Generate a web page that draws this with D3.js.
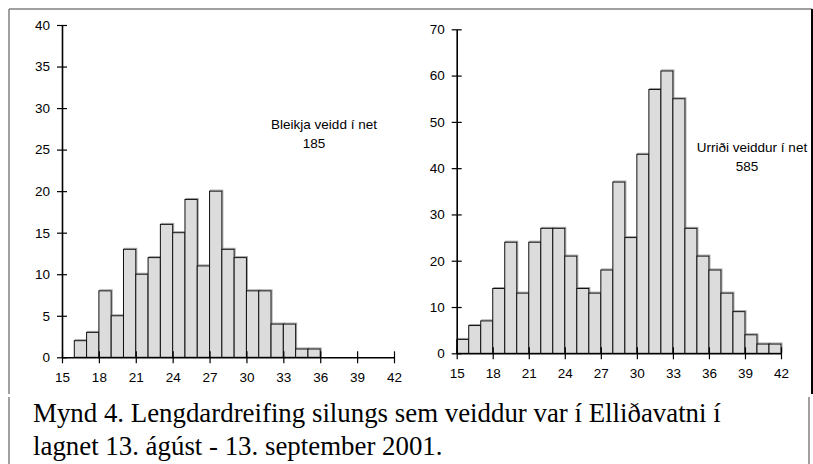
<!DOCTYPE html>
<html>
<head>
<meta charset="utf-8">
<script src="https://cdn.jsdelivr.net/npm/d3@7"></script>
<style>
  body { margin: 0; background: #fff; }
  svg { display: block; }
</style>
</head>
<body>
<div id="chart"></div>
<script>
// Bleikja (arctic charr) - bins start at 16 cm
var bleikjaStart = 16;
var bleikjaCounts = [2, 3, 8, 5, 13, 10, 12, 16, 15, 19, 11, 20, 13, 12, 8, 8, 4, 4, 1, 1];
var bleikjaYTicks = [0, 5, 10, 15, 20, 25, 30, 35, 40];

// Urriði (brown trout) - bins start at 15 cm
var urridiStart = 15;
var urridiCounts = [3, 6, 7, 14, 24, 13, 24, 27, 27, 21, 14, 13, 18, 37, 25, 43, 57, 61, 55, 27, 21, 18, 13, 9, 4, 2, 2];
var urridiYTicks = [0, 10, 20, 30, 40, 50, 60, 70];

var xTicks = [15, 18, 21, 24, 27, 30, 33, 36, 39, 42];

var labels = [["Bleikja veidd í net", "185"], ["Urriði veiddur í net", "585"]];
var caption = ["Mynd 4. Lengdardreifing silungs sem veiddur var  í Elliðavatni í",
               "lagnet 13. ágúst - 13. september 2001."];

var width = 813,
    height = 464;

var svg = d3.select("#chart")
            .append("svg")
              .attr("width", width)
              .attr("height", height);

// Frame round the charts and the caption box
svg.append("line").attr("x1", 9).attr("x2", 812).attr("y1", 9).attr("y2", 9)
   .attr("stroke", "#808080").attr("stroke-width", 1.5);
svg.append("line").attr("x1", 9).attr("x2", 9).attr("y1", 9).attr("y2", 394)
   .attr("stroke", "#808080").attr("stroke-width", 1.5);
svg.append("line").attr("x1", 812).attr("x2", 812).attr("y1", 9).attr("y2", 394)
   .attr("stroke", "#000").attr("stroke-width", 2);
svg.append("line").attr("x1", 9).attr("x2", 9).attr("y1", 397).attr("y2", 464)
   .attr("stroke", "#808080").attr("stroke-width", 1.5);
svg.append("line").attr("x1", 809).attr("x2", 809).attr("y1", 397).attr("y2", 464)
   .attr("stroke", "#808080").attr("stroke-width", 1.5);

function histogram(opts) {
  var x = d3.scaleLinear().domain([15, 42]).range([opts.left, opts.right]);
  var y = d3.scaleLinear().domain([0, opts.yMax]).range([opts.bottom, opts.top]);

  var bins = opts.counts.map(function(c, i) {
    return {x0: opts.start + i, x1: opts.start + i + 1, n: c};
  });

  var g = svg.append("g");

  // light shadow on bars
  g.selectAll(".shadow")
    .data(bins)
    .enter()
    .append("rect")
      .attr("x", function(d) { return x(d.x0) + 1; })
      .attr("y", function(d) { return y(d.n) - 1; })
      .attr("width", function(d) { return x(d.x1) - x(d.x0); })
      .attr("height", function(d) { return y(0) - y(d.n); })
      .attr("fill", "none")
      .attr("stroke", "#a0a0a0")
      .attr("stroke-width", 1);

  g.selectAll(".bar")
    .data(bins)
    .enter()
    .append("rect")
      .attr("x", function(d) { return x(d.x0); })
      .attr("y", function(d) { return y(d.n); })
      .attr("width", function(d) { return x(d.x1) - x(d.x0); })
      .attr("height", function(d) { return y(0) - y(d.n); })
      .attr("fill", "#dcdcdc")
      .attr("stroke", "#111")
      .attr("stroke-width", 1);

  // y axis, ticks crossing the line
  var yAxis = g.append("g")
    .attr("transform", "translate(" + opts.left + ",0)")
    .call(d3.axisLeft(y).tickValues(opts.yTicks).tickSize(5).tickSizeOuter(0).tickPadding(7));
  yAxis.selectAll(".tick line").attr("x1", 5).attr("stroke-width", 1.2);

  // x axis
  var xAxis = g.append("g")
    .attr("transform", "translate(0," + opts.bottom + ")")
    .call(d3.axisBottom(x).tickValues(xTicks).tickSize(6).tickSizeOuter(0).tickPadding(9));
  xAxis.selectAll(".tick line").attr("y1", -6).attr("stroke-width", 1.2);

  [yAxis, xAxis].forEach(function(a) {
    a.select(".domain").attr("stroke", "#000").attr("stroke-width", 1.6);
    a.selectAll("text")
      .attr("font-family", "Liberation Sans, Arial, sans-serif")
      .attr("font-size", "13.5px")
      .attr("fill", "#000");
  });

  g.append("text")
    .attr("x", opts.labelX).attr("y", opts.labelY)
    .attr("text-anchor", "middle")
    .attr("font-family", "Liberation Sans, Arial, sans-serif")
    .attr("font-size", "13.5px")
    .text(opts.label[0]);
  g.append("text")
    .attr("x", opts.numX).attr("y", opts.labelY + 19)
    .attr("text-anchor", "middle")
    .attr("font-family", "Liberation Sans, Arial, sans-serif")
    .attr("font-size", "13.5px")
    .text(opts.label[1]);
}

histogram({left: 62, right: 394, top: 25, bottom: 357.3, yMax: 40,
           start: bleikjaStart, counts: bleikjaCounts, yTicks: bleikjaYTicks,
           label: labels[0], labelX: 324, numX: 314, labelY: 129});

histogram({left: 456.7, right: 781, top: 29.3, bottom: 353.3, yMax: 70,
           start: urridiStart, counts: urridiCounts, yTicks: urridiYTicks,
           label: labels[1], labelX: 752, numX: 747, labelY: 152});

// Caption, narrow serif text
var cap = svg.append("g");
var line1 = cap.append("text")
  .attr("x", 0).attr("y", 0)
  .attr("font-family", "Liberation Serif, Times New Roman, serif")
  .attr("font-size", "27px")
  .text(caption[0]);
var line2 = cap.append("text")
  .attr("x", 0).attr("y", 33)
  .attr("font-family", "Liberation Serif, Times New Roman, serif")
  .attr("font-size", "27px")
  .text(caption[1]);
var sx = 688 / line1.node().getComputedTextLength();
cap.attr("transform", "translate(33,422) scale(" + sx + ",1)");
</script>
</body>
</html>
